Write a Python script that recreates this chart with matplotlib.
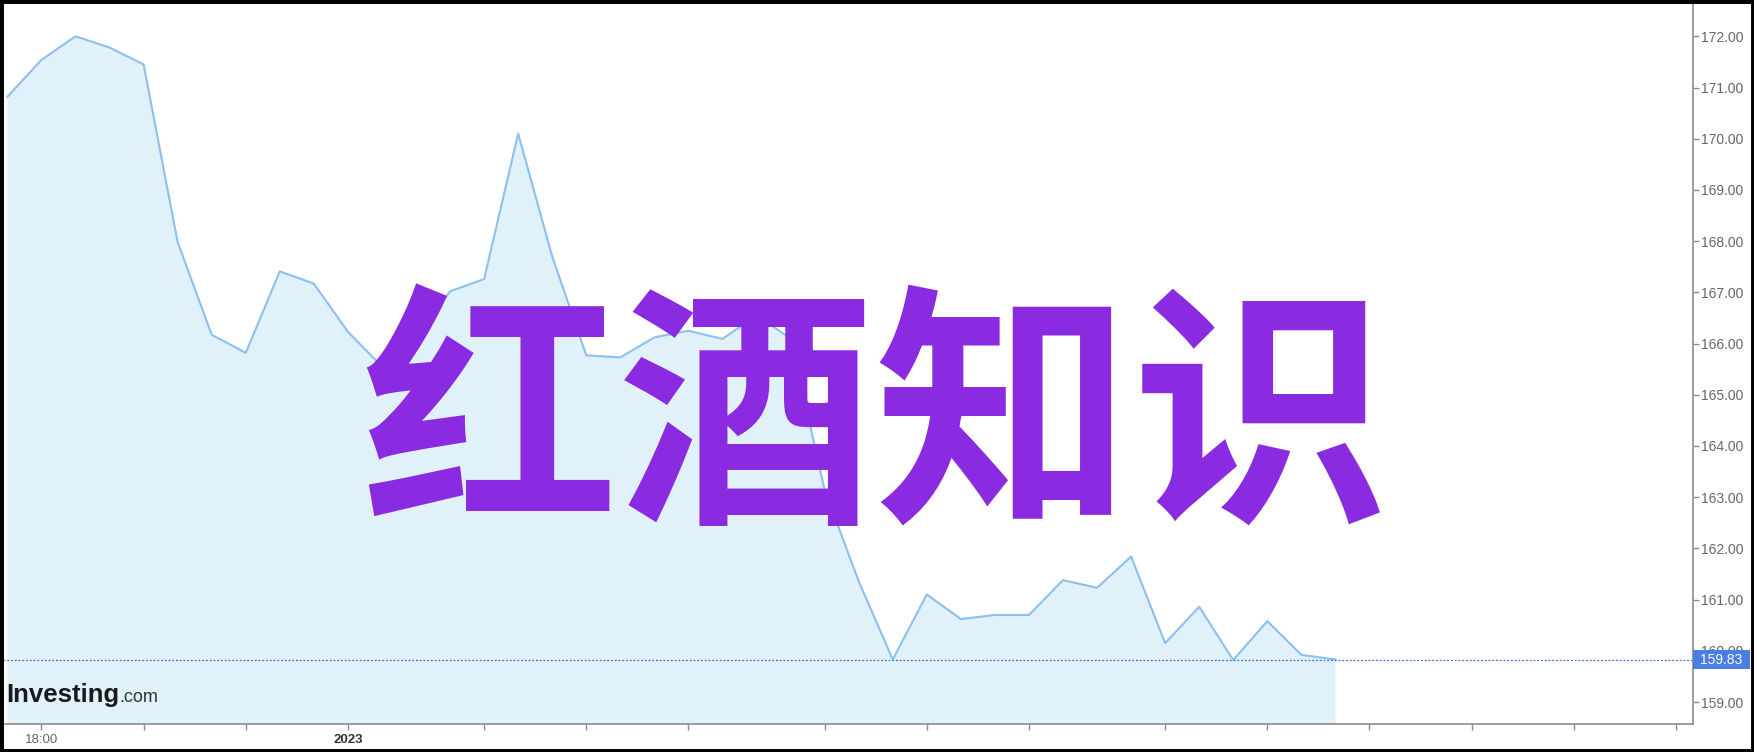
import matplotlib
matplotlib.use("Agg")
import matplotlib.pyplot as plt
from matplotlib.patches import Rectangle
import matplotlib.transforms as mtransforms

plt.rcParams['font.family'] = ['Liberation Sans', 'DejaVu Sans']

# hourly closes
prices = [170.82, 171.54, 172.00, 171.78, 171.45, 167.98, 166.17, 165.82, 167.41, 167.17,
          166.23, 165.55, 166.10, 167.02, 167.26, 170.10, 167.70, 165.77, 165.73, 166.12,
          166.25, 166.09, 166.55, 166.10, 163.14, 161.36, 159.83, 161.10, 160.62, 160.70,
          160.70, 161.38, 161.23, 161.84, 160.15, 160.86, 159.82, 160.58, 159.92, 159.83]
last_price = 159.83

x_tick_pos = [1, 4, 7, 10, 14, 17, 20, 24, 27, 30, 34, 37, 40, 43, 46, 49]
x_tick_labels = ['18:00', '', '', '2023'] + [''] * 12
y_ticks = list(range(159, 173))

title_text = "红酒知识"

line_color = '#8cc0ee'
fill_color = '#e0f1fa'
axis_gray = '#8c8c8c'
label_gray = '#666666'

fig = plt.figure(figsize=(17.54, 7.52), dpi=100)
ax = fig.add_axes([0.0017, 0.0372, 0.9635, 0.9588])

xs = list(range(len(prices)))
ax.fill_between(xs, prices, 150, color=fill_color, lw=0)
ax.plot(xs, prices, color=line_color, lw=1.5)
ax.axhline(last_price, color='#3d6fd6', lw=0.9, ls=(0, (1.5, 1.5)))

ax.set_xlim(-0.13, 49.5)
ax.set_ylim(158.57, 172.65)

for s in ['left', 'top']:
    ax.spines[s].set_visible(False)
for s in ['right', 'bottom']:
    ax.spines[s].set_color(axis_gray)
    ax.spines[s].set_linewidth(1.2)

ax.yaxis.tick_right()
ax.set_yticks(y_ticks)
ax.set_yticklabels(['%.2f' % v for v in y_ticks])
ax.tick_params(axis='y', length=4, width=1, color=axis_gray, labelcolor=label_gray,
               labelsize=10, pad=2)
ax.set_xticks(x_tick_pos)
ax.set_xticklabels(x_tick_labels)
ax.tick_params(axis='x', length=4, width=1, color=axis_gray, labelcolor=label_gray,
               labelsize=9.5, pad=3)
ax.get_xticklabels()[3].set_fontweight('bold')
ax.get_xticklabels()[3].set_color('#333333')

# last price tag
trans = mtransforms.blended_transform_factory(ax.transAxes, ax.transData)
ax.add_patch(Rectangle((1.0, last_price - 0.18), 0.034, 0.36, transform=trans,
                       facecolor='#4a7ee3', edgecolor='none', clip_on=False, zorder=5))
ax.text(1.004, last_price, '%.2f' % last_price, transform=trans, color='white',
        fontsize=10, va='center', ha='left', zorder=6)

# logo
logo_y = 1 - 702 / 752
logo = fig.text(6 / 1754, logo_y, 'Investing', fontsize=18.5, fontweight='bold',
                color='#1a1a1a', va='baseline', ha='left')
fig.canvas.draw()
bb = logo.get_window_extent()
fig.text(bb.x1 / fig.bbox.width, logo_y, '.com', fontsize=13, color='#333333',
         va='baseline', ha='left')

# overlay title
fig.text(875 / 1754, 1 - 428 / 752, title_text, family=['Noto Sans CJK SC'],
         fontsize=185, fontweight='bold', color='#8a2be2', ha='center', va='center')

fig.patches.append(Rectangle((0, 0), 1, 1, transform=fig.transFigure, fill=False,
                             edgecolor='black', lw=5))

fig.savefig('out.png', dpi=100)
